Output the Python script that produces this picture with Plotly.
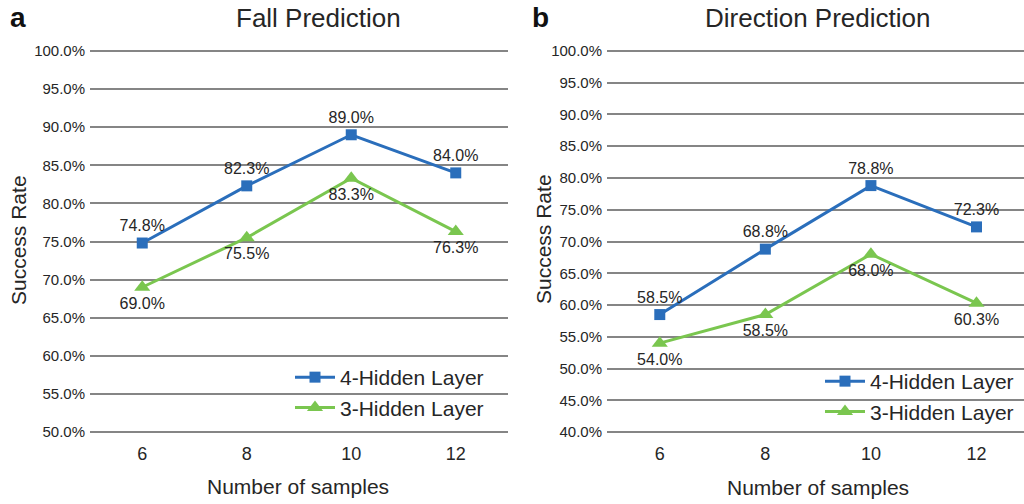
import plotly.graph_objects as go

W, H = 1024, 504

samples = ["6", "8", "10", "12"]
fall_4 = [74.8, 82.3, 89.0, 84.0]
fall_3 = [69.0, 75.5, 83.3, 76.3]
dir_4 = [58.5, 68.8, 78.8, 72.3]
dir_3 = [54.0, 58.5, 68.0, 60.3]
series_names = ["4-Hidden Layer", "3-Hidden Layer"]

BLUE = "#2A6EBB"
GREEN = "#7AC64F"
GRID = "#858585"
TXT = "#262626"
FONT = "Liberation Sans, Arial, sans-serif"


def px(x):
    return x / W


def py(y):
    return 1 - y / H


fig = go.Figure()

def add_pair(xa, ya, v4, v3, legend):
    fig.add_trace(go.Scatter(
        x=samples, y=v4, name=series_names[0], xaxis=xa, yaxis=ya,
        mode="lines+markers+text", text=[f"{v:.1f}%" for v in v4],
        textposition="top center", textfont=dict(size=16, color=TXT, family=FONT),
        line=dict(color=BLUE, width=3), marker=dict(symbol="square", size=11, color=BLUE),
        legend=legend, cliponaxis=False))
    fig.add_trace(go.Scatter(
        x=samples, y=v3, name=series_names[1], xaxis=xa, yaxis=ya,
        mode="lines+markers+text", text=[f"{v:.1f}%" for v in v3],
        textposition="bottom center", textfont=dict(size=16, color=TXT, family=FONT),
        line=dict(color=GREEN, width=3), marker=dict(symbol="triangle-up", size=14, color=GREEN),
        legend=legend, cliponaxis=False))

add_pair("x", "y", fall_4, fall_3, "legend")
add_pair("x2", "y2", dir_4, dir_3, "legend2")

xcommon = dict(type="category", showgrid=False, zeroline=False, showline=False,
               ticks="", tickfont=dict(size=18, color=TXT, family=FONT),
               ticklabelstandoff=7, fixedrange=True, automargin=False)
ycommon = dict(showgrid=True, gridcolor=GRID, gridwidth=1.5, zeroline=False, showline=False,
               ticks="", dtick=5, tickformat=".1f", ticksuffix="%", automargin=False,
               tickfont=dict(size=15, color=TXT, family=FONT), ticklabelstandoff=4)

# extend ranges slightly (~2px) so gridlines at 100% and the bottom are drawn
fig.update_layout(
    width=W, height=H,
    margin=dict(l=0, r=0, t=0, b=0, autoexpand=False),
    paper_bgcolor="white", plot_bgcolor="white",
    font=dict(family=FONT, color=TXT),
    xaxis=dict(domain=[px(90), px(508)], range=[-0.5, 3.5], anchor="y", **xcommon),
    yaxis=dict(domain=[py(434), py(49)], range=[49.75, 100.25], anchor="x", **ycommon),
    xaxis2=dict(domain=[px(607), 1.0], range=[-0.5, 3.45], anchor="y2", **xcommon),
    yaxis2=dict(domain=[py(434), py(49)], range=[39.7, 100.3], anchor="x2", **ycommon),
    legend=dict(x=px(290), y=py(357), xanchor="left", yanchor="top",
                bgcolor="rgba(0,0,0,0)", font=dict(size=21, color=TXT, family=FONT),
                itemwidth=40, tracegroupgap=0),
    legend2=dict(x=px(820), y=py(361), xanchor="left", yanchor="top",
                 bgcolor="rgba(0,0,0,0)", font=dict(size=21, color=TXT, family=FONT),
                 itemwidth=40, tracegroupgap=0),
    showlegend=True,
)

ann = [
    dict(text="<b>a</b>", x=px(18), y=py(18), size=28),
    dict(text="<b>b</b>", x=px(540), y=py(18), size=28),
    dict(text="Fall Prediction", x=px(318), y=py(18), size=26),
    dict(text="Direction Prediction", x=px(817), y=py(18), size=26),
    dict(text="Number of samples", x=px(298), y=py(486), size=21),
    dict(text="Number of samples", x=px(818), y=py(487), size=21),
]
for a in ann:
    fig.add_annotation(text=a["text"], x=a["x"], y=a["y"], xref="paper", yref="paper",
                       xanchor="center", yanchor="middle", showarrow=False,
                       font=dict(size=a["size"], color="#111111" if "<b>" in a["text"] else TXT, family=FONT))
for xx, yy in [(18, 240), (543, 239)]:
    fig.add_annotation(text="Success Rate", x=px(xx), y=py(yy), xref="paper", yref="paper",
                       xanchor="center", yanchor="middle", showarrow=False, textangle=-90,
                       font=dict(size=21, color=TXT, family=FONT))

fig.write_html("out.html", config={"displayModeBar": False},
               post_script="document.body.style.margin='0';document.body.style.overflow='hidden';")
